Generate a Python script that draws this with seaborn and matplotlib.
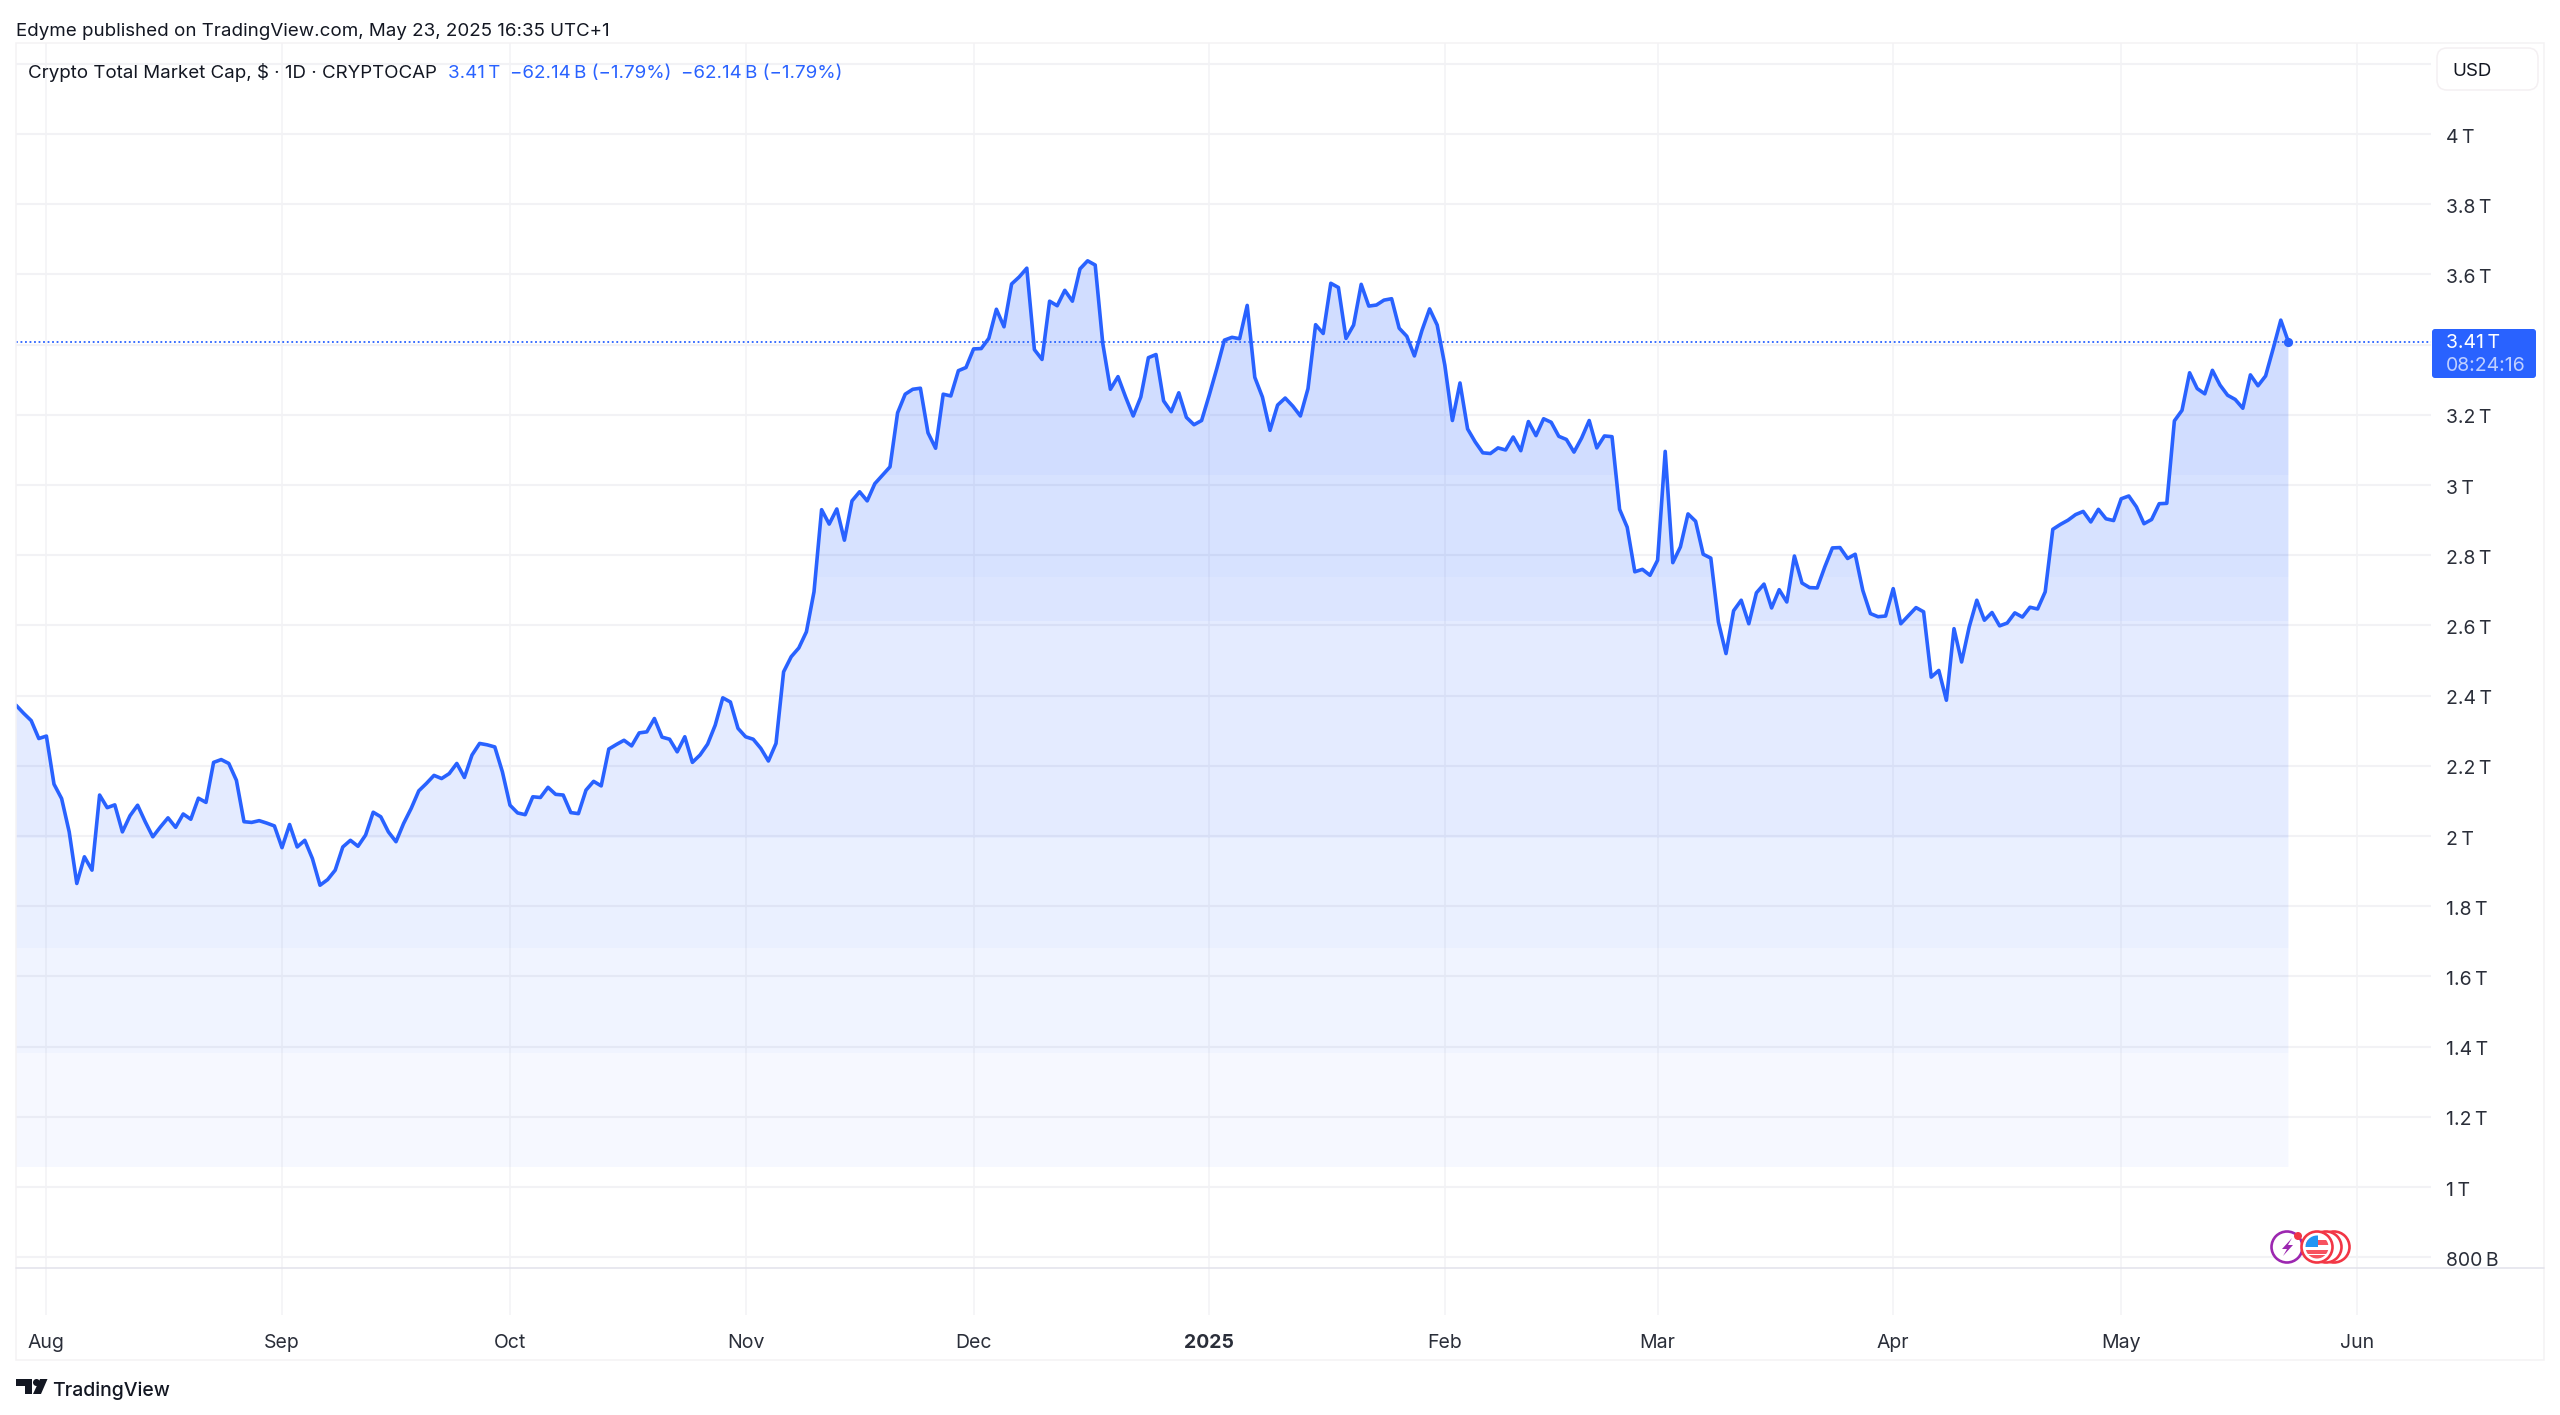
import matplotlib
matplotlib.use("Agg")
import matplotlib.pyplot as plt
import matplotlib.patches as mp
from matplotlib.transforms import ScaledTranslation
import numpy as np
import pandas as pd
import seaborn as sns

# Daily total market cap in trillions of USD
cap_jul_nov = [2.373,2.350,2.329,2.278,2.285,2.148,2.107,2.012,1.865,1.941,1.903,2.117,2.081,2.089,2.012,2.058,
 2.088,2.041,1.998,2.026,2.052,2.025,2.063,2.048,2.108,2.096,2.210,2.218,2.207,2.159,2.041,2.039,2.044,2.037,2.029,
 1.967,2.033,1.969,1.988,1.936,1.860,1.876,1.903,1.969,1.988,1.971,2.003,2.068,2.055,2.012,1.984,2.036,2.079,2.129,
 2.150,2.173,2.164,2.178,2.207,2.167,2.231,2.264,2.260,2.254,2.183,2.088,2.066,2.061,2.112,2.110,2.139,2.119,2.117,
 2.067,2.064,2.131,2.156,2.143,2.248,2.261,2.273,2.257,2.294,2.297,2.335,2.282,2.276,2.240,2.283,2.210,2.231,2.262,
 2.316,2.394,2.382,2.307,2.283,2.276,2.250,2.214,2.264,2.468,2.511,2.536]
cap_nov_feb = [2.582,2.696,2.930,2.889,2.932,2.843,2.955,2.981,2.955,3.004,3.028,3.052,3.206,3.259,3.273,3.276,
 3.149,3.105,3.259,3.254,3.326,3.335,3.388,3.389,3.418,3.501,3.451,3.573,3.593,3.618,3.386,3.358,3.524,3.511,3.555,
 3.524,3.616,3.639,3.627,3.403,3.273,3.309,3.251,3.197,3.251,3.363,3.372,3.240,3.209,3.263,3.193,3.172,3.184,3.256,
 3.332,3.413,3.421,3.417,3.512,3.307,3.251,3.156,3.228,3.248,3.225,3.197,3.275,3.457,3.432,3.575,3.563,3.418,3.456,
 3.572,3.510,3.513,3.527,3.531,3.447,3.424,3.368,3.441,3.502,3.456,3.342,3.184,3.291,3.160,3.123,3.092,3.090,3.106]
cap_feb_may = [3.100,3.137,3.098,3.181,3.141,3.189,3.179,3.139,3.130,3.094,3.134,3.184,3.106,3.140,3.138,2.931,
 2.880,2.753,2.760,2.743,2.786,3.096,2.779,2.824,2.918,2.897,2.803,2.792,2.610,2.520,2.642,2.672,2.605,2.693,2.718,
 2.650,2.702,2.667,2.798,2.721,2.708,2.707,2.767,2.821,2.822,2.791,2.803,2.700,2.634,2.625,2.627,2.705,2.605,2.628,
 2.651,2.639,2.453,2.472,2.387,2.591,2.496,2.596,2.672,2.615,2.637,2.599,2.607,2.636,2.624,2.652,2.647,2.696,2.874,
 2.888,2.900,2.916,2.925,2.895,2.931,2.904,2.899,2.961,2.969,2.938,2.890,2.902,2.947,2.948,3.183,3.213,3.320,3.275,
 3.260,3.327,3.285,3.256,3.244,3.219,3.314,3.283,3.311,3.389,3.470,3.408]
start_date = "2024-07-28"

y_tick_values = [0.8,1.0,1.2,1.4,1.6,1.8,2.0,2.2,2.4,2.6,2.8,3.0,3.2,3.4,3.6,3.8,4.0,4.2]
y_tick_labels = ["800\u2009B","1\u2009T","1.2\u2009T","1.4\u2009T","1.6\u2009T","1.8\u2009T","2\u2009T","2.2\u2009T",
                 "2.4\u2009T","2.6\u2009T","2.8\u2009T","3\u2009T","3.2\u2009T","","3.6\u2009T","3.8\u2009T","4\u2009T",""]
x_tick_dates = ["2024-08-01","2024-09-01","2024-10-01","2024-11-01","2024-12-01","2025-01-01",
                "2025-02-01","2025-03-01","2025-04-01","2025-05-01","2025-06-01"]
x_tick_labels = ["Aug","Sep","Oct","Nov","Dec","2025","Feb","Mar","Apr","May","Jun"]
band_edges = [1.057,1.382,1.681,1.995,2.613,2.738,3.029,4.26]
band_alphas = [0.04,0.065,0.095,0.125,0.16,0.185,0.21]

BLUE = "#2962FF"
GRID = "#F2F2F5"
FONT = ["Inter", "DejaVu Sans"]
W, H = 2560, 1415

sns.set_theme(style="white")
plt.rcParams["font.family"] = FONT

values = np.array(cap_jul_nov + cap_nov_feb + cap_feb_may)
dates = pd.date_range(start_date, periods=len(values), freq="D")
frame = pd.DataFrame({"date": dates, "cap": values})

fig = plt.figure(figsize=(W/100, H/100), dpi=100, facecolor="white")
L, R, T, B = 16, 2431, 43, 1267
ax = fig.add_axes([L/W, 1-B/H, (R-L)/W, (B-T)/H], facecolor="none")

sns.lineplot(data=frame, x="date", y="cap", ax=ax, color=BLUE, lw=2.6, estimator=None, zorder=5)
ax.grid(False)
area = ax.fill_between(dates, band_edges[0], values, facecolor="none", edgecolor="none")
clip_path = area.get_paths()[0]
for lo, hi, a in zip(band_edges[:-1], band_edges[1:], band_alphas):
    span = ax.axhspan(lo, hi, facecolor=BLUE, alpha=a, lw=0, zorder=3)
    span.set_clip_path(clip_path, transform=ax.transData)

ax.axhline(values[-1], color=BLUE, lw=1.3, ls=(0, (1, 1.5)), zorder=4)
ax.scatter(dates[-1:], values[-1:], s=44, color=BLUE, linewidths=0, zorder=6)

day = pd.Timedelta(days=1)
ax.set_xlim(dates[0], dates[0] + day*((R-L)/7.6))
ax.set_ylim(2.4-(B-695.7)/351, 2.4+(695.7-T)/351)
ax.set_xlabel(""); ax.set_ylabel("")
for s in ax.spines.values():
    s.set_visible(False)

ax.set_xticks(pd.to_datetime(x_tick_dates))
ax.set_xticklabels(x_tick_labels)
ax.yaxis.tick_right()
ax.set_yticks(y_tick_values)
ax.set_yticklabels(y_tick_labels)
ax.tick_params(axis="y", length=0, pad=10.5, labelsize=14, labelcolor="#2A2E39")
ax.tick_params(axis="x", bottom=True, direction="out", length=34.5, width=1.1, color=GRID, pad=13.5, labelsize=14, labelcolor="#2A2E39")
for lbl in ax.get_xticklabels():
    if lbl.get_text() == "2025":
        lbl.set_fontweight("bold")
down = ScaledTranslation(0, -1.5/100, fig.dpi_scale_trans)
for lbl in ax.get_yticklabels():
    lbl.set_transform(lbl.get_transform() + down)
ax.grid(True, axis="y", color=GRID, lw=1.5, zorder=1)
ax.grid(True, axis="x", color=GRID, lw=1.1, zorder=1)
ax.set_axisbelow(True)

# Overlay in pixel units for page furniture
ov = fig.add_axes([0, 0, 1, 1], facecolor="none")
ov.set_xlim(0, W); ov.set_ylim(H, 0); ov.axis("off")

ov.add_patch(mp.Rectangle((16, 43), 2528, 1317, fill=False, ec="#F4F2F4", lw=1.1))
ov.plot([16, 2544], [1268, 1268], color="#E4E4EC", lw=1.2)
ov.add_patch(mp.FancyBboxPatch((2437, 48), 101, 42, boxstyle="round,pad=0,rounding_size=10", fc="white", ec="#F4F0F2", lw=1.1))
ov.text(2452, 72, "USD", fontsize=13.5, color="#131722", va="center", ha="left")

ov.text(16, 31, "Edyme published on TradingView.com, May 23, 2025 16:35 UTC+1", fontsize=13.5, color="#131722", va="center")
ov.text(28, 73, "Crypto Total Market Cap, $ \u00b7 1D \u00b7 CRYPTOCAP", fontsize=13.5, color="#131722", va="center")
ov.text(448, 73, "3.41\u2009T", fontsize=13.5, color=BLUE, va="center")
ov.text(510, 73, "\u221262.14\u2009B (\u22121.79%)", fontsize=13.5, color=BLUE, va="center")
ov.text(681, 73, "\u221262.14\u2009B (\u22121.79%)", fontsize=13.5, color=BLUE, va="center")

ov.add_patch(mp.FancyBboxPatch((2432, 329), 104, 49, boxstyle="round,pad=0,rounding_size=3", fc=BLUE, ec="none"))
ov.text(2446, 343, "3.41\u2009T", fontsize=14, color="white", va="center")
ov.text(2446, 366, "08:24:16", fontsize=14, color="#BFD0FF", va="center")

# Event badges
RED = "#F23645"
for cx in (2334, 2326):
    ov.add_patch(mp.Circle((cx, 1247), 15.5, fc="white", ec=RED, lw=1.9, zorder=3))
ov.add_patch(mp.Circle((2287, 1247), 15.5, fc="white", ec="#9C27B0", lw=1.9, zorder=3))
ov.add_patch(mp.Polygon([[2292,1238],[2282,1249],[2287,1249],[2283,1256],[2293,1245],[2288,1245]], fc="#9C27B0", ec="none", zorder=4))
ov.add_patch(mp.Circle((2298, 1236), 4, fc=RED, ec="none", zorder=5))
ov.add_patch(mp.Circle((2317, 1247), 15.5, fc="white", ec=RED, lw=1.9, zorder=6))
flag = mp.Circle((2317, 1247), 11.5, transform=ov.transData, fc="none", ec="none")
ov.add_patch(flag)
for y0, h, col in [(1235.5, 23, "white"), (1240, 5, "#F7525F"), (1250, 4, "#F7525F"), (1255, 5, "#F7525F")]:
    r = mp.Rectangle((2305, y0), 24, h, fc=col, ec="none", zorder=7)
    ov.add_patch(r); r.set_clip_path(flag)
r = mp.Rectangle((2305, 1235), 13, 12, fc="#2196F3", ec="none", zorder=8)
ov.add_patch(r); r.set_clip_path(flag)

# Logo and wordmark
ov.add_patch(mp.Polygon([[16,1379],[32,1379],[32,1394],[24.5,1394],[24.5,1386],[16,1386]], fc="#131722", ec="none"))
ov.add_patch(mp.Circle((36.5,1382.5), 3.5, fc="#131722", ec="none"))
ov.add_patch(mp.Polygon([[40,1379],[47.5,1379],[41,1394],[33,1394]], fc="#131722", ec="none"))
ov.text(52, 1391, "TradingView", fontsize=14, color="#131722", va="center", fontweight="medium")

fig.savefig("out.png", dpi=100, facecolor="white")
